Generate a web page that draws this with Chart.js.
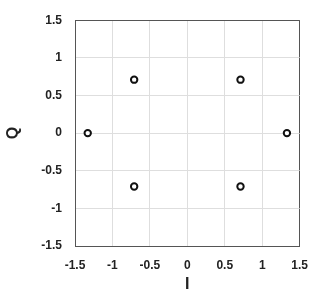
<!DOCTYPE html>
<html lang="en">
<head>
  <meta charset="UTF-8">
  <title>Constellation</title>
  <script src="https://cdn.jsdelivr.net/npm/chart.js"></script>
  <style>
    body { margin: 0; background: #fff; }
    #wrap { width: 320px; height: 296px; }
  </style>
</head>
<body>
  <div id="wrap"><canvas id="iqChart"></canvas></div>
  <script>
    // constellation points
    const iValues = [-1.33, -0.71, -0.71, 0.71, 0.71, 1.33];
    const qValues = [0, 0.71, -0.71, 0.71, -0.71, 0];
    const axisMin = -1.5;
    const axisMax = 1.5;
    const tickStep = 0.5;

    const points = iValues.map((x, i) => ({ x: x, y: qValues[i] }));
    const frameOrGrid = c => (c.tick && (c.tick.value === axisMin || c.tick.value === axisMax)) ? '#555' : '#dedede';
    const tickFont = { family: 'Liberation Sans, Arial, sans-serif', size: 12, weight: 'bold' };
    const titleFont = { family: 'Liberation Sans, Arial, sans-serif', size: 16, weight: 'bold' };
    const plainLabel = v => String(Math.round(v * 10) / 10);

    new Chart(document.getElementById('iqChart'), {
      type: 'scatter',
      data: {
        datasets: [{
          data: points,
          pointStyle: 'circle',
          pointRadius: 3.2,
          pointBorderWidth: 2,
          pointBackgroundColor: '#fff',
          pointBorderColor: '#111'
        }]
      },
      options: {
        responsive: true,
        maintainAspectRatio: false,
        animation: false,
        layout: { padding: { top: 8, right: 14, left: 0, bottom: 0 } },
        plugins: { legend: { display: false }, tooltip: { enabled: false } },
        scales: {
          x: {
            min: axisMin, max: axisMax,
            afterFit: s => { s.height = 50; },
            ticks: { stepSize: tickStep, padding: 12, color: '#222', font: tickFont, callback: plainLabel },
            grid: { color: frameOrGrid, drawTicks: false, lineWidth: 1 },
            border: { color: '#555', width: 1 },
            title: { display: true, text: 'I', color: '#222', font: titleFont, padding: { top: 0, bottom: 2 } }
          },
          y: {
            min: axisMin, max: axisMax,
            afterFit: s => { s.width = 75; },
            ticks: { stepSize: tickStep, padding: 13, color: '#222', font: tickFont, callback: plainLabel },
            grid: { color: frameOrGrid, drawTicks: false, lineWidth: 1 },
            border: { color: '#555', width: 1 },
            title: { display: true, text: 'Q', color: '#222', font: titleFont, padding: { top: 4, bottom: 0 } }
          }
        }
      }
    });
  </script>
</body>
</html>
